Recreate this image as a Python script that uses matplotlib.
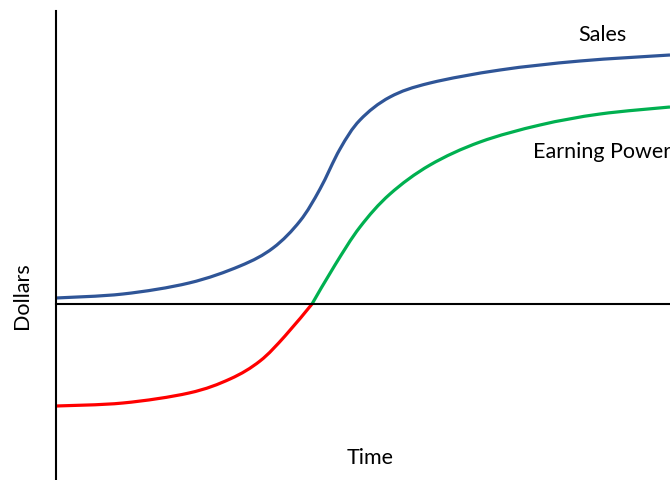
import matplotlib.pyplot as plt
import numpy as np
from matplotlib.path import Path
from matplotlib.patches import PathPatch

# values (time units, dollars relative to the zero line)
sales_t = [0, 67, 133, 184, 217, 244, 264, 284, 304, 334, 374, 444, 524, 614]
sales_v = [6, 10, 21, 38, 56, 83, 115, 155, 184, 207, 221, 234, 243, 249]

earn_t = [0, 67, 133, 174, 204, 229, 256, 279, 304, 334, 374, 424, 484, 544, 614]
earn_v = [-102, -99, -89, -75, -57, -32, 0, 39, 77, 110, 139, 162, 179, 190, 197]


def smooth_line(ax, x, y, color):
    # Catmull-Rom style bezier through the points
    x = np.asarray(x, float)
    y = np.asarray(y, float)
    px = np.concatenate([[x[0]], x, [x[-1]]])
    py = np.concatenate([[y[0]], y, [y[-1]]])
    verts = [(x[0], y[0])]
    codes = [Path.MOVETO]
    for i in range(1, len(px) - 2):
        c1 = (px[i] + (px[i + 1] - px[i - 1]) / 6, py[i] + (py[i + 1] - py[i - 1]) / 6)
        c2 = (px[i + 1] - (px[i + 2] - px[i]) / 6, py[i + 1] - (py[i + 2] - py[i]) / 6)
        verts += [c1, c2, (px[i + 1], py[i + 1])]
        codes += [Path.CURVE4] * 3
    ax.add_patch(PathPatch(Path(verts, codes), fill=False, edgecolor=color,
                           lw=2.3, capstyle='butt'))


plt.rcParams['font.family'] = ['Lato', 'DejaVu Sans']

fig = plt.figure(figsize=(6.7, 4.81), dpi=100)
ax = fig.add_axes([0, 0, 1, 1])
ax.set_xlim(-56, 614)
ax.set_ylim(-176, 305)
ax.axis('off')

smooth_line(ax, sales_t, sales_v, '#2F5597')

earn_t = np.array(earn_t)
earn_v = np.array(earn_v)
smooth_line(ax, earn_t[earn_v <= 0], earn_v[earn_v <= 0], '#FF0000')
smooth_line(ax, earn_t[earn_v >= 0], earn_v[earn_v >= 0], '#00B050')

# axes
ax.plot([0, 0], [-176, 293], color='black', lw=1.5)
ax.plot([0, 614], [0, 0], color='black', lw=1.5)

ax.text(546, 270, 'Sales', fontsize=15.5, ha='center', va='center')
ax.text(477, 153, 'Earning Power', fontsize=15.5, ha='left', va='center')
ax.text(314, -153, 'Time', fontsize=15.5, ha='center', va='center')
ax.text(-34, 9, 'Dollars', fontsize=15.5, ha='center', va='center', rotation=90)

fig.savefig('out.png', dpi=100)
